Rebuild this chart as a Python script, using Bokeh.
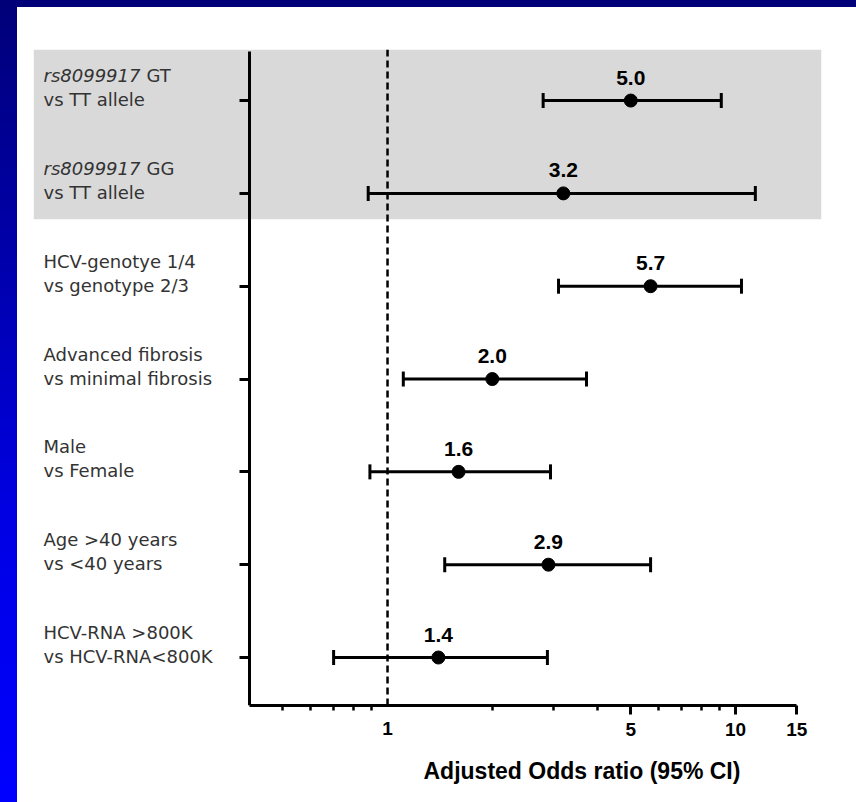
from bokeh.plotting import figure
from bokeh.models import (Range1d, FixedTicker, LinearAxis, LogAxis, Span, Whisker, Title,
                          TeeHead, ColumnDataSource, PrintfTickFormatter, Spacer, Row, Column)
from bokeh.core.properties import value
from bokeh.embed import file_html
from bokeh.resources import INLINE

# ---- data -------------------------------------------------------------
label_prefix = ["rs8099917", "rs8099917", "", "", "", "", ""]
label_head = ["GT", "GG", "HCV-genotye 1/4", "Advanced fibrosis", "Male",
              "Age >40 years", "HCV-RNA >800K"]
label_vs = ["vs TT allele", "vs TT allele", "vs genotype 2/3", "vs minimal fibrosis",
            "vs Female", "vs <40 years", "vs HCV-RNA<800K"]
odds_ratio = [5.0, 3.2, 5.7, 2.0, 1.6, 2.9, 1.4]
ci_low = [2.8, 0.88, 3.1, 1.11, 0.89, 1.46, 0.70]
ci_high = [9.1, 11.4, 10.4, 3.73, 2.94, 5.7, 2.88]
x_major_ticks = [5, 10, 15]          # labelled, with long tick marks
x_reference_tick = [1]               # labelled, no tick mark
x_minor_ticks = [0.5, 0.6, 0.7, 0.8, 0.9, 2, 3, 4, 6, 7, 8, 9]

n = len(odds_ratio)
row_y = [n - 1 - i for i in range(n)]          # first row at the top

# ---- ranges -----------------------------------------------------------
X_START, X_END = 0.0961, 17.66
Y_START, Y_END = -0.517, 6.55
AXIS_X0 = 0.4          # where the x axis starts and the y axis sits
SHADE_BOTTOM = 4.72    # lower edge of the shaded rs8099917 block

src = ColumnDataSource(dict(
    y=row_y, orv=odds_ratio, lo=ci_low, hi=ci_high,
    lbl=[f"{v:.1f}" for v in odds_ratio],
    x0=[X_START] * n,
    head=label_head, vs=label_vs,
    head_off=[10 + (103 if s else 0) for s in label_prefix],
))
italic_rows = [i for i, s in enumerate(label_prefix) if s]
src_italic = ColumnDataSource(dict(
    y=[row_y[i] for i in italic_rows],
    x0=[X_START] * len(italic_rows),
    prefix=[label_prefix[i] for i in italic_rows],
))

p = figure(width=839, height=795, x_axis_type="log",
           x_range=Range1d(X_START, X_END), y_range=Range1d(Y_START, Y_END),
           output_backend="svg", toolbar_location=None, y_axis_location=None,
           min_border_left=16, min_border_right=35, min_border_top=42,
           min_border_bottom=97)
p.grid.visible = False
p.outline_line_color = None
p.background_fill_color = "white"
p.border_fill_color = "white"
p.styles = {"background-color": "white"}

# shaded block behind the two genotype rows
p.quad(left=[X_START], right=[X_END], bottom=[SHADE_BOTTOM], top=[Y_END],
       fill_color="#d9d9d9", line_color=None, level="underlay")

# reference line at OR = 1
p.add_layout(Span(location=1, dimension="height", line_color="black",
                  line_width=2.5, line_dash="7 4"))

# confidence intervals and point estimates
p.add_layout(Whisker(source=src, base="y", lower="lo", upper="hi", dimension="width",
                     line_color="black", line_width=3,
                     lower_head=TeeHead(size=15, line_width=3, line_color="black"),
                     upper_head=TeeHead(size=15, line_width=3, line_color="black")))
p.scatter("orv", "y", source=src, size=13, color="black")

p.text(x="orv", y="y", text="lbl", source=src, text_align="center",
       text_baseline="middle", y_offset=-23,
       text_font=value("Liberation Sans"), text_font_style="bold",
       text_font_size="21px", text_color="black")

# row labels
label_color = "#333333"
p.text(x="x0", y="y", text="prefix", source=src_italic, x_offset=10, y_offset=-25,
       text_align="left", text_baseline="middle", text_font=value("DejaVu Sans"),
       text_font_style="italic", text_font_size="18px", text_color=label_color)
p.text(x="x0", y="y", text="head", source=src, x_offset="head_off", y_offset=-25,
       text_align="left", text_baseline="middle", text_font=value("DejaVu Sans"),
       text_font_size="18px", text_color=label_color)
p.text(x="x0", y="y", text="vs", source=src, x_offset=10, y_offset=-1,
       text_align="left", text_baseline="middle", text_font=value("DejaVu Sans"),
       text_font_size="18px", text_color=label_color)

# x axis rule, tick marks and the 5 / 10 / 15 labels
tick_font = "Liberation Sans"
xa = p.xaxis[0]
xa.ticker = FixedTicker(ticks=x_major_ticks, minor_ticks=x_minor_ticks)
xa.formatter = PrintfTickFormatter(format="%d")
xa.bounds = (AXIS_X0, 15)
xa.axis_line_width = 3
xa.axis_line_color = "black"
xa.major_tick_line_width = 3
xa.major_tick_out = 9
xa.major_tick_in = 0
xa.minor_tick_line_width = 2.5
xa.minor_tick_out = 5
xa.minor_tick_in = 0
xa.major_label_standoff = 8
xa.major_label_text_font = tick_font
xa.major_label_text_font_style = "bold"
xa.major_label_text_font_size = "19px"
xa.major_label_text_color = "black"

# the "1" label, pulled up onto the same line as the other labels
xl = LogAxis(ticker=FixedTicker(ticks=x_reference_tick, minor_ticks=[]),
             formatter=PrintfTickFormatter(format="%d"),
             axis_line_color=None, major_tick_line_color=None,
             major_tick_out=0, major_tick_in=0, minor_tick_line_color=None,
             major_label_standoff=-17, major_label_text_font=tick_font,
             major_label_text_font_style="bold", major_label_text_font_size="19px",
             major_label_text_color="black")
p.add_layout(xl, "below")

p.add_layout(Title(text="Adjusted Odds ratio (95% CI)", align="left", offset=390,
                   text_font=tick_font, text_font_style="bold", text_font_size="23px",
                   text_color="black", standoff=34), "below")

# y axis: a plain rule with one tick per comparison
ya = LinearAxis(fixed_location=AXIS_X0, ticker=FixedTicker(ticks=row_y, minor_ticks=[]),
                bounds=(Y_START, 6.53), axis_line_width=3, axis_line_color="black",
                major_tick_out=10, major_tick_in=0, major_tick_line_width=3,
                major_tick_line_color="black", minor_tick_line_color=None,
                major_label_text_color=None)
p.add_layout(ya, "left")

# blue slide frame around the white panel
page = Row(children=[Spacer(width=17, height=802),
                     Column(children=[Spacer(width=839, height=7), p])],
           styles={"background": "linear-gradient(180deg, #000078 0%, #0000b0 35%, "
                                 "#0000e4 65%, #0000ff 100%)"})

open("out.html", "w").write(file_html(page, INLINE))
